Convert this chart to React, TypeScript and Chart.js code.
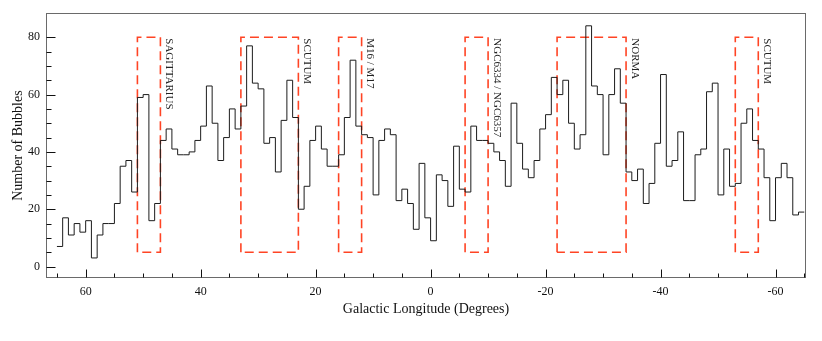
import React, { useEffect, useRef } from 'react';
import { Chart, registerables } from 'chart.js';

Chart.register(...registerables);

// Left (higher-longitude) edge of each 1-degree bin
const binStarts = [
  65, 64, 63, 62, 61, 60, 59, 58, 57, 56,
  55, 54, 53, 52, 51, 50, 49, 48, 47, 46,
  45, 44, 43, 42, 41, 40, 39, 38, 37, 36,
  35, 34, 33, 32, 31, 30, 29, 28, 27, 26,
  25, 24, 23, 22, 21, 20, 19, 18, 17, 16,
  15, 14, 13, 12, 11, 10, 9, 8, 7, 6,
  5, 4, 3, 2, 1, 0, -1, -2, -3, -4,
  -5, -6, -7, -8, -9, -10, -11, -12, -13, -14,
  -15, -16, -17, -18, -19, -20, -21, -22, -23, -24,
  -25, -26, -27, -28, -29, -30, -31, -32, -33, -34,
  -35, -36, -37, -38, -39, -40, -41, -42, -43, -44,
  -45, -46, -47, -48, -49, -50, -51, -52, -53, -54,
  -55, -56, -57, -58, -59, -60, -61, -62, -63, -64,
];
const lastBinEnd = -65;

const bubbleCounts = [
  7, 17, 11, 15, 12, 16, 3, 11, 15, 15,
  22, 35, 37, 26, 59, 60, 16, 22, 44, 48,
  41, 39, 39, 40, 44, 49, 63, 50, 37, 45,
  55, 48, 56, 77, 64, 62, 43, 45, 33, 51,
  65, 52, 20, 28, 44, 49, 41, 35, 35, 39,
  52, 72, 49, 46, 45, 25, 44, 48, 46, 23,
  27, 22, 13, 36, 17, 9, 32, 30, 21, 42,
  27, 26, 49, 44, 44, 43, 40, 37, 28, 57,
  43, 34, 31, 37, 48, 53, 66, 60, 65, 50,
  41, 46, 84, 63, 60, 39, 60, 69, 57, 33,
  30, 34, 22, 29, 43, 67, 35, 37, 47, 23,
  23, 39, 41, 61, 64, 25, 41, 28, 29, 50,
  55, 44, 41, 31, 16, 31, 36, 31, 18, 19,
];

const xTickValues = [60, 40, 20, 0, -20, -40, -60];
const yTickValues = [0, 20, 40, 60, 80];

const regionNames = ['SAGITTARIUS', 'SCUTUM', 'M16 / M17', 'NGC6334 / NGC6357', 'NORMA', 'SCUTUM'];
const regionFrom = [51, 33, 16, -6, -22, -53];
const regionTo = [47, 23, 12, -10, -34, -57];
const regionBottom = 5;
const regionTop = 80;

const SERIF = "'Liberation Serif', 'Times New Roman', Times, serif";
const RED = '#ff4424';

const decorPlugin = {
  id: 'decor',
  afterDraw(chart: any) {
    const { ctx, chartArea } = chart;
    const xs = chart.scales.x;
    const ys = chart.scales.y;
    const L = Math.round(chartArea.left) + 0.5;
    const R = Math.round(chartArea.right) - 0.5;
    const T = Math.round(chartArea.top) + 0.5;
    const B = Math.round(chartArea.bottom) - 0.5;
    ctx.save();
    // frame
    ctx.strokeStyle = '#6a6a6a';
    ctx.lineWidth = 1;
    ctx.strokeRect(L, T, R - L, B - T);
    // ticks (inward, bottom and left)
    ctx.strokeStyle = '#111';
    ctx.beginPath();
    for (let v = -65; v <= 65; v += 5) {
      const px = Math.round(xs.getPixelForValue(v)) + 0.5;
      const len = v % 20 === 0 ? 8 : 4;
      ctx.moveTo(px, B);
      ctx.lineTo(px, B - len);
    }
    for (let v = 0; v <= 80; v += 5) {
      const py = Math.round(ys.getPixelForValue(v)) + 0.5;
      const len = v % 20 === 0 ? 9 : 5;
      ctx.moveTo(L, py);
      ctx.lineTo(L + len, py);
    }
    ctx.stroke();
    // region labels
    ctx.fillStyle = '#222';
    ctx.font = `11px ${SERIF}`;
    ctx.textAlign = 'left';
    ctx.textBaseline = 'middle';
    const topPx = ys.getPixelForValue(regionTop);
    regionNames.forEach((name, i) => {
      const px = xs.getPixelForValue(regionTo[i]) + 8.5;
      ctx.save();
      ctx.translate(px, topPx + 1);
      ctx.rotate(Math.PI / 2);
      ctx.fillText(name, 0, 0);
      ctx.restore();
    });
    ctx.restore();
  },
};

export default function App() {
  const canvasRef = useRef<HTMLCanvasElement | null>(null);

  useEffect(() => {
    if (!canvasRef.current) return;
    const histPoints = binStarts.map((x, i) => ({ x, y: bubbleCounts[i] }));
    histPoints.push({ x: lastBinEnd, y: bubbleCounts[bubbleCounts.length - 1] });

    const regionSets = regionNames.map((name, i) => ({
      label: name,
      data: [
        { x: regionFrom[i], y: regionBottom },
        { x: regionFrom[i], y: regionTop },
        { x: regionTo[i], y: regionTop },
        { x: regionTo[i], y: regionBottom },
        { x: regionFrom[i], y: regionBottom },
      ],
      borderColor: RED,
      borderWidth: 1.6,
      borderDash: [9, 5],
      pointRadius: 0,
      fill: false,
      tension: 0,
    }));

    const chart = new Chart(canvasRef.current, {
      type: 'line',
      data: {
        datasets: [
          {
            label: 'Bubbles',
            data: histPoints,
            stepped: 'before',
            borderColor: '#1c1c1c',
            borderWidth: 1,
            pointRadius: 0,
            fill: false,
          },
          ...regionSets,
        ] as any,
      },
      options: {
        responsive: false,
        animation: false,
        events: [],
        layout: { padding: { left: 0, top: 7, right: 16, bottom: 0 } },
        plugins: { legend: { display: false }, tooltip: { enabled: false } },
        scales: {
          x: {
            type: 'linear',
            reverse: true,
            min: -65.3,
            max: 66.9,
            afterBuildTicks: (s: any) => {
              s.ticks = xTickValues.map((v) => ({ value: v }));
            },
            afterFit: (s: any) => {
              s.height = 63;
            },
            grid: { display: false, drawTicks: false },
            border: { display: false },
            ticks: {
              padding: 7,
              color: '#111',
              autoSkip: false,
              maxRotation: 0,
              font: { family: SERIF, size: 12 },
              callback: (v: any) => String(v),
            },
            title: {
              display: true,
              text: 'Galactic Longitude (Degrees)',
              color: '#111',
              font: { family: SERIF, size: 14 },
              padding: { top: 0, bottom: 23.6 },
            },
          },
          y: {
            type: 'linear',
            min: -4,
            max: 88.4,
            afterBuildTicks: (s: any) => {
              s.ticks = yTickValues.map((v) => ({ value: v }));
            },
            afterFit: (s: any) => {
              s.width = 46;
            },
            grid: { display: false, drawTicks: false },
            border: { display: false },
            ticks: {
              padding: 6,
              color: '#111',
              font: { family: SERIF, size: 12 },
              callback: (v: any) => String(v),
            },
            title: {
              display: true,
              text: 'Number of Bubbles',
              color: '#111',
              font: { family: SERIF, size: 14 },
              padding: { top: 9.6, bottom: 0 },
            },
          },
        },
      } as any,
      plugins: [decorPlugin],
    });
    return () => chart.destroy();
  }, []);

  return (
    <div style={{ position: 'fixed', left: 0, top: 0, width: 822, height: 341, background: '#fff' }}>
      <canvas ref={canvasRef} width={822} height={341} style={{ display: 'block', width: 822, height: 341 }} />
    </div>
  );
}
